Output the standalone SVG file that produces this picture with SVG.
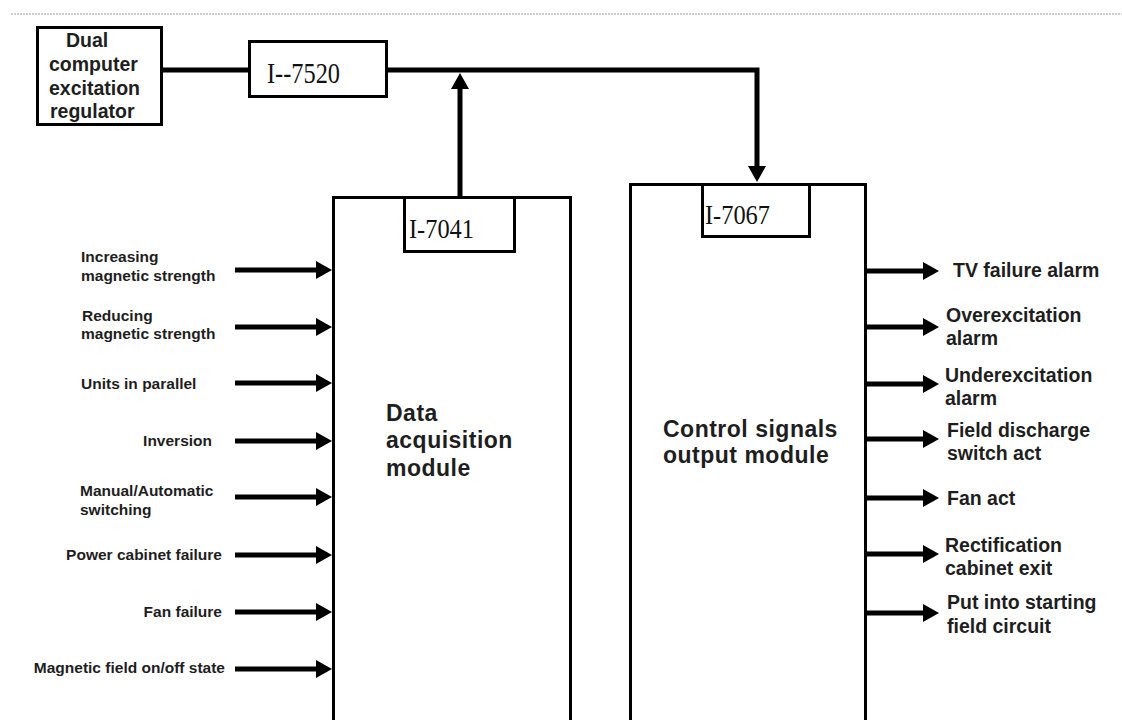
<svg xmlns="http://www.w3.org/2000/svg" width="1122" height="720" viewBox="0 0 1122 720">
<style>
.box{fill:#fff;stroke:#000;stroke-width:3}
.conn{fill:none;stroke:#000;stroke-width:5}
.lbl{font-family:"Liberation Sans",Arial,sans-serif;font-weight:bold;fill:#1e1e1e}
.in{font-size:15.5px}
.out{font-size:19.5px}
.mid{font-size:23px;letter-spacing:0.5px}
.ser{font-family:"Liberation Serif","Times New Roman",serif;fill:#111}
</style>
<defs>
<marker id="ah" markerUnits="userSpaceOnUse" markerWidth="16" markerHeight="18" viewBox="0 0 16 18" refX="4" refY="9" orient="auto">
<path d="M0,0 L16,9 L0,18 z" fill="#000"/>
</marker>
</defs>
<rect width="1122" height="720" fill="#fff"/>
<line x1="11" y1="14" x2="1122" y2="14" stroke="#cfcfcf" stroke-width="2" stroke-dasharray="2,1"/>

<g id="connectors">
<path class="conn" d="M163,70 H249"/>
<path class="conn" d="M388,70 H757 V170" marker-end="url(#ah)"/>
<path class="conn" d="M460,196 V85" marker-end="url(#ah)"/>
<line class="conn" x1="235" y1="270" x2="320" y2="270" marker-end="url(#ah)"/>
<line class="conn" x1="235" y1="327" x2="320" y2="327" marker-end="url(#ah)"/>
<line class="conn" x1="235" y1="383" x2="320" y2="383" stroke-width="3.5" marker-end="url(#ah)"/>
<line class="conn" x1="235" y1="441" x2="320" y2="441" marker-end="url(#ah)"/>
<line class="conn" x1="235" y1="497" x2="320" y2="497" stroke-width="3.5" marker-end="url(#ah)"/>
<line class="conn" x1="235" y1="555" x2="320" y2="555" marker-end="url(#ah)"/>
<line class="conn" x1="235" y1="612" x2="320" y2="612" stroke-width="4" marker-end="url(#ah)"/>
<line class="conn" x1="235" y1="669" x2="320" y2="669" marker-end="url(#ah)"/>
<line class="conn" x1="866" y1="271" x2="927" y2="271" marker-end="url(#ah)"/>
<line class="conn" x1="866" y1="327" x2="927" y2="327" marker-end="url(#ah)"/>
<line class="conn" x1="866" y1="384" x2="927" y2="384" stroke-width="3.5" marker-end="url(#ah)"/>
<line class="conn" x1="866" y1="439" x2="927" y2="439" marker-end="url(#ah)"/>
<line class="conn" x1="866" y1="498" x2="927" y2="498" stroke-width="3.5" marker-end="url(#ah)"/>
<line class="conn" x1="866" y1="554" x2="927" y2="554" marker-end="url(#ah)"/>
<line class="conn" x1="866" y1="613" x2="927" y2="613" stroke-width="3.5" marker-end="url(#ah)"/>
</g>

<g id="regulator">
<rect class="box" x="37.5" y="27.5" width="124" height="97"/>
<text class="lbl out" x="66" y="47">Dual</text>
<text class="lbl out" x="49" y="71">computer</text>
<text class="lbl out" x="49" y="95">excitation</text>
<text class="lbl out" x="50" y="118">regulator</text>
</g>

<g id="i7520">
<rect class="box" x="249.5" y="41.5" width="137" height="55"/>
<text class="ser" x="267" y="83" font-size="29" textLength="73" lengthAdjust="spacingAndGlyphs">I--7520</text>
</g>

<g id="data-acquisition">
<rect class="box" x="333.5" y="197.5" width="237" height="600"/>
<text class="lbl mid" x="386" y="421">Data</text>
<text class="lbl mid" x="386" y="448">acquisition</text>
<text class="lbl mid" x="386" y="476">module</text>
</g>
<g id="i7041">
<rect class="box" x="404.5" y="197.5" width="110" height="54"/>
<text class="ser" x="409" y="238" font-size="27" textLength="65" lengthAdjust="spacingAndGlyphs">I-7041</text>
</g>

<g id="control-output">
<rect class="box" x="630.5" y="184.5" width="235" height="600"/>
<text class="lbl mid" x="663" y="437">Control signals</text>
<text class="lbl mid" x="663" y="463">output module</text>
</g>
<g id="i7067">
<rect class="box" x="702.5" y="184.5" width="107" height="52"/>
<text class="ser" x="705" y="224" font-size="27" textLength="65" lengthAdjust="spacingAndGlyphs">I-7067</text>
</g>

<g id="inputs">
<text class="lbl in" x="81" y="262">Increasing</text>
<text class="lbl in" x="81" y="281">magnetic strength</text>
<text class="lbl in" x="82" y="321">Reducing</text>
<text class="lbl in" x="81" y="339">magnetic strength</text>
<text class="lbl in" x="81" y="389">Units in parallel</text>
<text class="lbl in" x="212" y="446" text-anchor="end">Inversion</text>
<text class="lbl in" x="80" y="496">Manual/Automatic</text>
<text class="lbl in" x="80" y="515">switching</text>
<text class="lbl in" x="222" y="560" text-anchor="end">Power cabinet failure</text>
<text class="lbl in" x="222" y="617" text-anchor="end">Fan failure</text>
<text class="lbl in" x="225" y="673" text-anchor="end">Magnetic field on/off state</text>
</g>

<g id="outputs">
<text class="lbl out" x="953" y="277">TV failure alarm</text>
<text class="lbl out" x="946" y="322">Overexcitation</text>
<text class="lbl out" x="946" y="345">alarm</text>
<text class="lbl out" x="945" y="382">Underexcitation</text>
<text class="lbl out" x="945" y="405">alarm</text>
<text class="lbl out" x="947" y="437">Field discharge</text>
<text class="lbl out" x="947" y="460">switch act</text>
<text class="lbl out" x="947" y="505">Fan act</text>
<text class="lbl out" x="945" y="552">Rectification</text>
<text class="lbl out" x="945" y="575">cabinet exit</text>
<text class="lbl out" x="947" y="609">Put into starting</text>
<text class="lbl out" x="947" y="633">field circuit</text>
</g>
</svg>
